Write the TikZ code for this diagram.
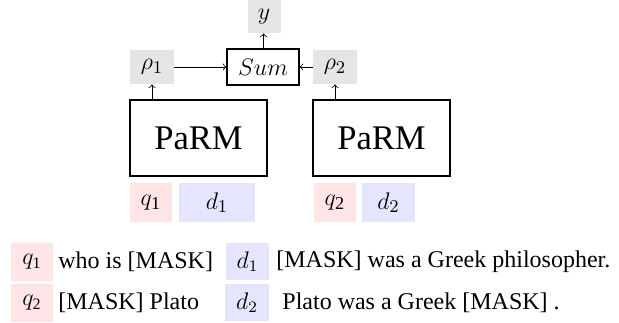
\documentclass[tikz,border=0pt,12pt]{standalone}
\usepackage{amsmath}
\usepackage{fontspec}
\setmainfont{Liberation Serif}
\usepackage{tikz}

\begin{document}
\begin{tikzpicture}[x=0.5pt,y=-0.5pt,
    gbox/.style={fill=gray!20,inner sep=0pt,font=\fontsize{13}{15}\selectfont},
    qbox/.style={fill=red!10,inner sep=0pt},
    dbox/.style={fill=blue!10,inner sep=0pt},
    model/.style={draw,line width=0.6pt,inner sep=0pt,minimum width=68.5pt,minimum height=38pt,font=\Large},
    txt/.style={anchor=west,inner sep=0pt}]
  \useasboundingbox (0,0) rectangle (619,322);
  \node[gbox,minimum width=16.5pt,minimum height=16.5pt] (y) at (264,16.5) {$y$};
  \node[draw,line width=0.6pt,inner sep=0pt,minimum width=36pt,minimum height=18pt,font=\fontsize{13}{15}\selectfont] (sum) at (263,67) {$Sum$};
  \node[gbox,minimum width=22pt,minimum height=17pt] (rho1) at (152,67) {$\rho_1$};
  \node[gbox,minimum width=22pt,minimum height=17pt] (rho2) at (335,67) {$\rho_2$};
  \node[model] (parm1) at (198.5,138) {PaRM};
  \node[model] (parm2) at (381.5,138) {PaRM};
  \node[qbox,minimum width=21pt,minimum height=19.5pt,font=\fontsize{13}{15}\selectfont] (q1) at (151,202.5) {$q_{\text{1}}$};
  \node[dbox,minimum width=38pt,minimum height=19.5pt,font=\fontsize{13}{15}\selectfont] (d1) at (217,202.5) {$d_1$};
  \node[qbox,minimum width=21pt,minimum height=19.5pt,font=\fontsize{13}{15}\selectfont] (q2) at (335,202.5) {$q_{\text{2}}$};
  \node[dbox,minimum width=26.5pt,minimum height=19.5pt,font=\fontsize{13}{15}\selectfont] (d2) at (388.5,202.5) {$d_2$};
  \draw[->] (rho1) -- (sum);
  \draw[->] (rho2) -- (sum);
  \draw[->] (sum) -- (y);
  \draw[->] (parm1.north -| rho1.south) -- (rho1.south);
  \draw[->] (parm2.north -| rho2.south) -- (rho2.south);
  % legend
  \node[qbox,minimum width=21pt,minimum height=19pt] (lq1) at (32,262) {$q_{\text{1}}$};
  \node[txt] (tq1) at (58,262) {who is [MASK]};
  \node[dbox,minimum width=21.5pt,minimum height=18.5pt] (ld1) at (247.5,261.5) {$d_1$};
  \node[txt] (td1) at (276,262) {[MASK] was a Greek philosopher.};
  \node[qbox,minimum width=21pt,minimum height=19pt] (lq2) at (32,303) {$q_{\text{2}}$};
  \node[txt] (tq2) at (58,303) {[MASK] Plato};
  \node[dbox,minimum width=22pt,minimum height=18.5pt] (ld2) at (247,302.5) {$d_2$};
  \node[txt] (td2) at (282,303) {Plato was a Greek [MASK] .};
\end{tikzpicture}
\end{document}
